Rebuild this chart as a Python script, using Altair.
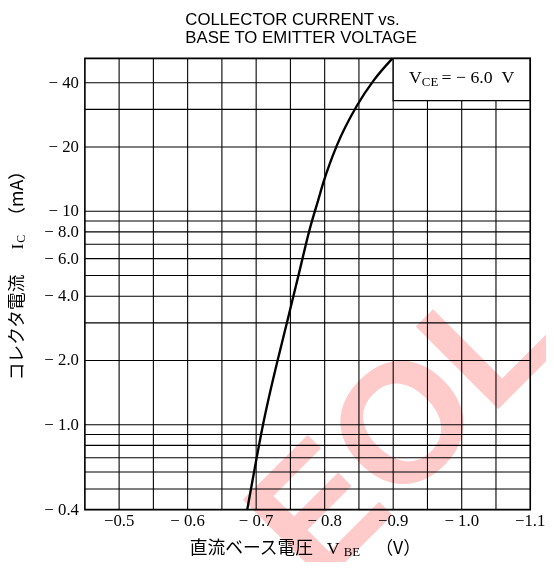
import altair as alt
import pandas as pd

# ---- data ----
V_BE = [-0.687, -0.710, -0.748, -0.763, -0.778, -0.791, -0.798, -0.818, -0.847, -0.871, -0.899]
I_C = [0.4, 1.0, 3.3, 5.2, 8.2, 11.4, 13.6, 20.4, 31.2, 40.8, 52.0]

V_GRID = [-0.5, -0.55, -0.6, -0.65, -0.7, -0.75, -0.8, -0.85, -0.9, -0.95, -1.0, -1.05]
I_GRID = [0.5, 0.6, 0.7, 0.8, 0.9, 1, 2, 3, 4, 5, 6, 7, 8, 9, 10, 20, 30, 40]
X_TICKS = [-0.5, -0.6, -0.7, -0.8, -0.9, -1.0, -1.1]
X_LABELS = ["\u22120.5", "\u2212 0.6", "\u2212 0.7", "\u2212 0.8", "\u22120.9", "\u2212 1.0", "\u22121.1"]
Y_TICKS = [0.4, 1, 2, 4, 6, 8, 10, 20, 40]
Y_LABELS = ["\u2212 0.4", "\u2212 1.0", "\u2212 2.0", "\u2212 4.0", "\u2212 6.0", "\u2212 8.0",
            "\u2212 10", "\u2212 20", "\u2212 40"]
X_DOMAIN = [-1.1, -0.45]
Y_DOMAIN = [0.4, 52]
BOX_V = [-0.9, -1.1]
BOX_I = [33, 52]

W, H = 452, 458
SERIF = "Liberation Serif"
SANS = "Liberation Sans"
CJK = "Noto Sans CJK JP"
NB = "\u00a0"

xscale = alt.Scale(domain=X_DOMAIN, reverse=True, nice=False, zero=False)
yscale = alt.Scale(type="log", domain=Y_DOMAIN, nice=False)

one = pd.DataFrame({"k": [0]})


def txt(t, x, y, size=16, font=SERIF, angle=0, align="center", baseline="middle",
        color="black", weight="normal", **kw):
    return alt.Chart(one).mark_text(
        text=t, fontSize=size, font=font, angle=angle, align=align,
        baseline=baseline, color=color, fontWeight=weight, **kw
    ).encode(x=alt.value(x), y=alt.value(y))


vgrid = alt.Chart(pd.DataFrame({"v": V_GRID})).mark_rule(
    color="black", strokeWidth=1.1
).encode(x=alt.X("v:Q", scale=xscale, axis=None))

hgrid = alt.Chart(pd.DataFrame({"i": I_GRID})).mark_rule(
    color="black", strokeWidth=1.1
).encode(y=alt.Y("i:Q", scale=yscale, axis=None))

box = alt.Chart(pd.DataFrame({"v1": [BOX_V[0]], "v2": [BOX_V[1]],
                              "i1": [BOX_I[0]], "i2": [BOX_I[1]]})).mark_rect(
    fill="white", stroke="black", strokeWidth=1.3
).encode(
    x=alt.X("v1:Q", scale=xscale, axis=None), x2="v2:Q",
    y=alt.Y("i1:Q", scale=yscale, axis=None), y2="i2:Q",
)

curve = alt.Chart(pd.DataFrame({"v": V_BE, "i": I_C})).mark_line(
    color="black", strokeWidth=2.4, interpolate="monotone"
).encode(
    x=alt.X("v:Q", scale=xscale, axis=None),
    y=alt.Y("i:Q", scale=yscale, axis=None),
    order="i:Q",
)

border = alt.Chart(one).mark_rect(
    fillOpacity=0, stroke="black", strokeWidth=1.6
).encode(x=alt.value(0), x2=alt.value(W), y=alt.value(0), y2=alt.value(H))

# tick labels placed through the scales
xlab = alt.Chart(pd.DataFrame({"v": X_TICKS, "t": X_LABELS})).mark_text(
    font=SERIF, fontSize=17, color="black", align="center", baseline="middle"
).encode(x=alt.X("v:Q", scale=xscale, axis=None), y=alt.value(H + 12), text="t:N")

ylab = alt.Chart(pd.DataFrame({"i": Y_TICKS, "t": Y_LABELS})).mark_text(
    font=SERIF, fontSize=17, color="black", align="right", baseline="middle"
).encode(y=alt.Y("i:Q", scale=yscale, axis=None), x=alt.value(-6), text="t:N")

annotations = [
    txt("COLLECTOR CURRENT vs.", 102, -38.5, size=17, font=SANS, align="left"),
    txt("BASE TO EMITTER VOLTAGE", 102, -20.5, size=17, font=SANS, align="left"),
    # box text
    txt("V", 329, 20, size=18, align="left"),
    txt("CE", 342, 24, size=13, align="left"),
    txt("=" + NB + "\u2212" + NB + "6.0" + NB + NB + "V", 362, 20, size=18, align="left"),
    # x title
    txt("直流ベース電圧", 169, 498, size=18, font=CJK),
    txt("V", 252, 498, size=18),
    txt("BE", 271, 501, size=13),
    txt("（V）", 318, 498, size=18, font=CJK),
    # y title (rotated)
    txt("コレクタ電流", -68, 273, size=18, font=CJK, angle=270),
    txt("I", -68, 191, size=18, angle=270),
    txt("C", -65, 183, size=12, angle=270),
    txt("（mA）", -68, 137, size=18, font=CJK, angle=270),
]

watermark = txt("EOL", 324, 378, size=172, font=SANS, angle=315,
                color="#ffcaca", weight="bold", blend="multiply")

chart = alt.layer(
    vgrid, hgrid, box, curve, border, xlab, ylab, *annotations, watermark
).properties(
    width=W, height=H,
    padding={"left": 78, "top": 47, "right": 16, "bottom": 49},
    autosize=alt.AutoSizeParams(type="none"),
).configure_view(strokeWidth=0).configure(background="white")

chart.save("out.html", embed_options={"renderer": "svg", "actions": False})
